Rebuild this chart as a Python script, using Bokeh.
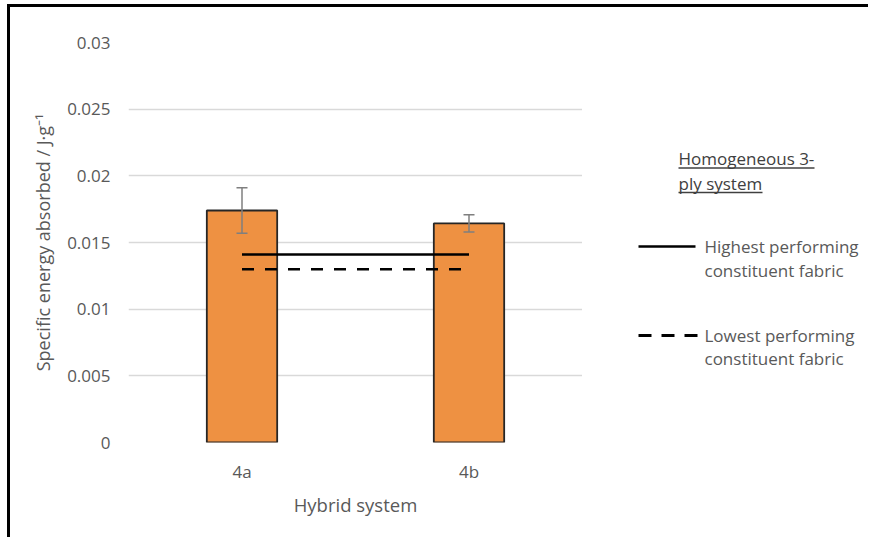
from bokeh.plotting import figure
from bokeh.layouts import row
from bokeh.models import ColumnDataSource, Whisker, TeeHead, FixedTicker, Range1d
from bokeh.core.properties import value
from bokeh.embed import file_html
from bokeh.resources import INLINE

# ---- data ----
categories = ["4a", "4b"]
energy = [0.0174, 0.01643]
errors = [0.0017, 0.00065]
highest_constituent = 0.0141
lowest_constituent = 0.0130
y_ticks = [0, 0.005, 0.01, 0.015, 0.02, 0.025, 0.03]
y_tick_labels = ["0", "0.005", "0.01", "0.015", "0.02", "0.025", "0.03"]
legend_title = ["Homogeneous 3-", "ply system"]
legend_labels = [["Highest performing", "constituent fabric"],
                 ["Lowest performing", "constituent fabric"]]

FONT = "Open Sans"
GREY = "#595959"
DARK = "#404040"
H = 530
LW = 286
TOP, BOTTOM = 35, 95

# ---- main chart ----
p = figure(x_range=categories, y_range=(0, 0.03), width=572, height=H,
           output_backend="svg", toolbar_location=None,
           min_border_left=118, min_border_right=0, min_border_top=TOP, min_border_bottom=BOTTOM)

src = ColumnDataSource(dict(x=categories, top=energy,
                            upper=[e + d for e, d in zip(energy, errors)],
                            lower=[e - d for e, d in zip(energy, errors)]))

p.vbar(x="x", top="top", width=0.31, source=src, fill_color="#EE9142",
       line_color="#262626", line_width=1.8)

p.add_layout(Whisker(base="x", upper="upper", lower="lower", source=src, level="overlay",
                     line_color="#7f7f7f", line_width=1.5,
                     upper_head=TeeHead(size=11, line_color="#7f7f7f", line_width=1.5),
                     lower_head=TeeHead(size=11, line_color="#7f7f7f", line_width=1.5)))

p.line(x=categories, y=[highest_constituent] * 2, line_color="black", line_width=2.5)
p.line(x=categories, y=[lowest_constituent] * 2, line_color="black", line_width=2.5,
       line_dash="12 11")

p.yaxis.ticker = FixedTicker(ticks=y_ticks)
p.yaxis.major_label_overrides = {t: l for t, l in zip(y_ticks, y_tick_labels)}
for ax in (p.xaxis, p.yaxis):
    ax.axis_line_color = None
    ax.major_tick_line_color = None
    ax.minor_tick_line_color = None
    ax.major_tick_out = 0
    ax.major_tick_in = 0
    ax.major_label_text_font = FONT
    ax.major_label_text_font_size = "17px"
    ax.major_label_text_color = GREY
    ax.axis_label_text_font = FONT
    ax.axis_label_text_font_size = "18px"
    ax.axis_label_text_color = GREY
    ax.axis_label_text_font_style = "normal"
p.yaxis.major_label_standoff = 18
p.yaxis.axis_label = "Specific energy absorbed / J·g⁻¹"
p.yaxis.axis_label_standoff = 9
p.xaxis.major_label_standoff = 17
p.xaxis.axis_label = "Hybrid system"
p.xaxis.axis_label_text_font_size = "18.5px"
p.xaxis.axis_label_standoff = 6

p.xgrid.grid_line_color = None
p.ygrid.grid_line_color = "#d9d9d9"
p.ygrid.grid_line_width = 1.5
p.outline_line_color = None

# ---- legend panel (pixel coordinates = canvas pixels, y from top) ----
lg = figure(title=None, width=LW, height=H,
            x_range=Range1d(0, LW), y_range=Range1d(H - BOTTOM, TOP),
            x_axis_location=None, y_axis_location=None,
            output_backend="svg", toolbar_location=None,
            min_border_left=0, min_border_right=0, min_border_top=TOP, min_border_bottom=BOTTOM)
lg.grid.visible = False
lg.outline_line_color = None

lg.text(x=[96, 96], y=[151, 176], text=legend_title, text_font=value(FONT),
        text_font_size=value("17px"), text_color=DARK, text_baseline="middle", text_align="left")
lg.segment(x0=[96, 96], y0=[160.5, 185], x1=[232, 180], y1=[160.5, 185],
           line_color=DARK, line_width=1.3)

lg.line(x=[56, 113], y=[239, 239], line_color="black", line_width=2.5)
lg.line(x=[56, 115], y=[328, 328], line_color="black", line_width=2.8, line_dash="13 10")

lg.text(x=[122, 122, 122, 122], y=[239, 263, 328, 351],
        text=legend_labels[0] + legend_labels[1], text_font=value(FONT),
        text_font_size=value("17px"), text_color=GREY, text_baseline="middle", text_align="left")

layout = row(p, lg, spacing=0)
layout.styles = {"margin-left": "7px", "margin-top": "4px",
                 "border-top": "3px solid black", "border-left": "3px solid black"}

open("out.html", "w").write(file_html(layout, INLINE))
